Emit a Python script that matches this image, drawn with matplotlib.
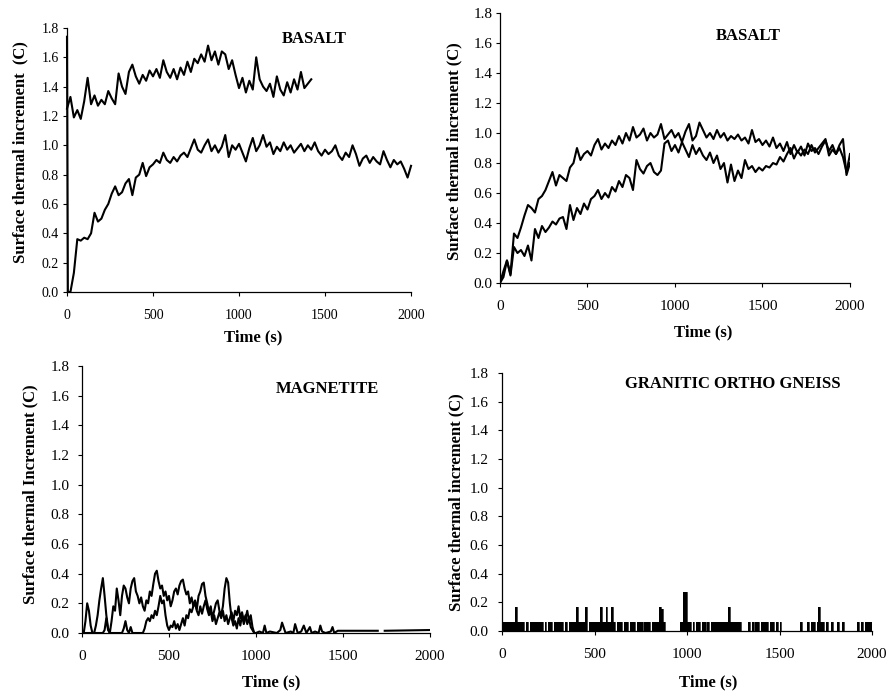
import numpy as np
import matplotlib
matplotlib.use("Agg")
import matplotlib.pyplot as plt

plt.rcParams['font.family'] = ['Liberation Serif', 'DejaVu Serif']

# ---------------- data ----------------
x_ticks = [0, 500, 1000, 1500, 2000]
y_ticks = [0.0, 0.2, 0.4, 0.6, 0.8, 1.0, 1.2, 1.4, 1.6, 1.8]

# Top-left BASALT
tl_upper_t = np.arange(0, 1421, 20)
tl_upper = [1.25, 1.33, 1.19, 1.24, 1.18, 1.30, 1.46, 1.28, 1.34, 1.27,
            1.31, 1.28, 1.37, 1.32, 1.28, 1.49, 1.40, 1.35, 1.50, 1.55,
            1.47, 1.42, 1.48, 1.44, 1.51, 1.47, 1.52, 1.46, 1.58, 1.50,
            1.46, 1.52, 1.45, 1.53, 1.48, 1.57, 1.50, 1.59, 1.56, 1.62,
            1.57, 1.68, 1.58, 1.64, 1.55, 1.64, 1.62, 1.52, 1.58, 1.48,
            1.39, 1.46, 1.36, 1.44, 1.38, 1.60, 1.45, 1.40, 1.37, 1.42,
            1.33, 1.47, 1.38, 1.34, 1.43, 1.36, 1.45, 1.38, 1.50, 1.39,
            1.42, 1.45]

tl_lower_t = np.concatenate([[0, 5], np.arange(20, 2001, 20)])
tl_lower = [1.74, 0.00,
            0.00, 0.13, 0.36, 0.35, 0.37, 0.36, 0.40, 0.54, 0.48, 0.50,
            0.56, 0.60, 0.67, 0.72, 0.66, 0.68, 0.74, 0.77, 0.66, 0.78,
            0.80, 0.88, 0.79, 0.85, 0.87, 0.90, 0.88, 0.95, 0.90, 0.88,
            0.92, 0.89, 0.93, 0.95, 0.92, 0.98, 1.04, 0.97, 0.95, 1.00,
            1.04, 0.96, 1.00, 0.95, 0.99, 1.07, 0.92, 1.00, 0.97, 1.01,
            0.95, 0.89, 0.98, 1.05, 0.96, 1.00, 1.07, 0.99, 1.02, 0.94,
            0.99, 0.96, 1.02, 0.97, 1.00, 0.95, 0.98, 1.01, 0.96, 1.00,
            0.97, 1.02, 0.96, 0.93, 0.97, 0.94, 0.96, 1.00, 0.93, 0.90,
            0.95, 0.92, 1.00, 0.94, 0.86, 0.91, 0.93, 0.88, 0.92, 0.89,
            0.87, 0.96, 0.90, 0.85, 0.90, 0.87, 0.89, 0.84, 0.78, 0.86]

# Top-right BASALT
tr_t = np.arange(0, 2001, 20)
tr_upper = [0.00, 0.08, 0.15, 0.06, 0.33, 0.30, 0.37, 0.45, 0.52, 0.50,
            0.47, 0.56, 0.58, 0.62, 0.68, 0.74, 0.65, 0.72, 0.70, 0.68,
            0.77, 0.80, 0.90, 0.82, 0.86, 0.88, 0.85, 0.92, 0.96, 0.89,
            0.93, 0.90, 0.95, 0.92, 0.98, 0.93, 1.00, 0.95, 1.04, 0.97,
            0.99, 1.03, 0.95, 1.00, 0.97, 0.99, 1.06, 0.96, 0.99, 1.02,
            0.97, 1.00, 0.94, 1.01, 1.06, 0.95, 0.98, 1.07, 1.02, 0.97,
            1.00, 0.96, 1.02, 0.97, 1.00, 0.95, 0.98, 0.96, 0.99, 0.95,
            0.97, 0.93, 1.02, 0.94, 0.96, 0.92, 0.95, 0.91, 0.97, 0.90,
            0.93, 0.88, 0.94, 0.86, 0.92, 0.87, 0.91, 0.85, 0.93, 0.88,
            0.90, 0.86, 0.91, 0.95, 0.88, 0.92, 0.86, 0.90, 0.84, 0.74,
            0.86]
tr_lower = [0.00, 0.04, 0.15, 0.05, 0.24, 0.20, 0.22, 0.18, 0.25, 0.15,
            0.36, 0.30, 0.38, 0.34, 0.37, 0.41, 0.39, 0.43, 0.44, 0.36,
            0.52, 0.42, 0.50, 0.46, 0.53, 0.49, 0.56, 0.58, 0.62, 0.56,
            0.60, 0.57, 0.64, 0.61, 0.68, 0.64, 0.72, 0.70, 0.62, 0.82,
            0.76, 0.73, 0.78, 0.80, 0.74, 0.72, 0.75, 0.93, 0.95, 0.88,
            0.92, 0.87, 0.94, 0.89, 0.84, 0.92, 0.86, 0.90, 0.85, 0.82,
            0.87, 0.80, 0.85, 0.76, 0.80, 0.67, 0.79, 0.68, 0.75, 0.70,
            0.82, 0.76, 0.78, 0.74, 0.77, 0.75, 0.78, 0.77, 0.80, 0.79,
            0.84, 0.81, 0.86, 0.90, 0.83, 0.88, 0.85, 0.89, 0.86, 0.92,
            0.87, 0.90, 0.93, 0.96, 0.85, 0.89, 0.86, 0.92, 0.96, 0.72,
            0.80]

# Bottom-left MAGNETITE
mag_a_t = np.arange(0, 1001, 10)
mag_a = [0.00, 0.00, 0.08, 0.20, 0.15, 0.05, 0.00, 0.00, 0.05, 0.12,
         0.22, 0.30, 0.37, 0.25, 0.12, 0.03, 0.00, 0.08, 0.18, 0.15,
         0.30, 0.22, 0.12, 0.25, 0.32, 0.30, 0.24, 0.20, 0.30, 0.35,
         0.37, 0.28, 0.25, 0.20, 0.24, 0.18, 0.15, 0.22, 0.20, 0.28,
         0.25, 0.33, 0.40, 0.42, 0.35, 0.30, 0.32, 0.25, 0.28, 0.22,
         0.25, 0.18, 0.22, 0.28, 0.30, 0.26, 0.32, 0.35, 0.36, 0.30,
         0.26, 0.28, 0.20, 0.24, 0.18, 0.22, 0.16, 0.25, 0.28, 0.33,
         0.34, 0.25, 0.20, 0.14, 0.18, 0.10, 0.15, 0.20, 0.22, 0.15,
         0.12, 0.18, 0.30, 0.37, 0.34, 0.20, 0.10, 0.05, 0.08, 0.03,
         0.10, 0.05, 0.12, 0.06, 0.10, 0.15, 0.08, 0.12, 0.04, 0.00,
         0.00]
mag_b_t = np.concatenate([np.arange(0, 991, 10),
                          [1000, 1020, 1040, 1050, 1060, 1080, 1120, 1140, 1150, 1170,
                           1200, 1215, 1225, 1240, 1260, 1275, 1290, 1310, 1320, 1340,
                           1360, 1370, 1380, 1400, 1430, 1440, 1450, 1470, 1700, 1710,
                           1740, 2000]])
mag_b = [0, 0, 0, 0, 0, 0, 0, 0, 0, 0,
         0, 0, 0, 0.02, 0.10, 0.02, 0, 0, 0, 0,
         0, 0, 0, 0, 0.03, 0.08, 0.02, 0, 0.04, 0,
         0, 0, 0, 0, 0, 0, 0.03, 0.08, 0.10, 0.08,
         0.12, 0.10, 0.15, 0.12, 0.18, 0.25, 0.20, 0.22, 0.12, 0.05,
         0.02, 0.05, 0.04, 0.08, 0.03, 0.06, 0.02, 0.06, 0.10, 0.05,
         0.12, 0.10, 0.16, 0.14, 0.18, 0.20, 0.15, 0.12, 0.18, 0.13,
         0.18, 0.22, 0.16, 0.12, 0.15, 0.08, 0.12, 0.06, 0.10, 0.14,
         0.10, 0.15, 0.08, 0.12, 0.06, 0.10, 0.14, 0.08, 0.15, 0.12,
         0.18, 0.10, 0.14, 0.08, 0.12, 0.06, 0.10, 0.04, 0.02, 0.00,
         0.00, 0.01, 0.00, 0.05, 0.00, 0.01, 0.00, 0.02, 0.07, 0.00,
         0.01, 0.00, 0.06, 0.00, 0.01, 0.05, 0.00, 0.04, 0.00, 0.01,
         0.00, 0.05, 0.01, 0.00, 0.01, 0.04, 0.00, 0.015, 0.015, np.nan,
         0.015, 0.02]

# Bottom-right GRANITIC ORTHO GNEISS (10 s bins)
gn_t = np.arange(0, 2001, 10)
gn = [0.06, 0.06, 0.06, 0.06, 0.06, 0.06, 0.06, 0.17, 0.06, 0.06,
      0.06, 0.06, 0, 0.06, 0, 0.06, 0.06, 0.06, 0.06, 0.06,
      0.06, 0.06, 0, 0.06, 0, 0.06, 0.06, 0, 0.06, 0.06,
      0.06, 0.06, 0.06, 0, 0.06, 0, 0.06, 0.06, 0.06, 0.06,
      0.17, 0.06, 0.06, 0.06, 0.06, 0.17, 0, 0.06, 0.06, 0.06,
      0.06, 0.06, 0.06, 0.17, 0.06, 0.06, 0.17, 0.06, 0.06, 0.17,
      0.06, 0, 0.06, 0.06, 0.06, 0, 0.06, 0.06, 0, 0.06,
      0.06, 0.06, 0, 0.06, 0.06, 0.06, 0, 0.06, 0.06, 0.06,
      0, 0.06, 0.06, 0.06, 0.06, 0.17, 0.15, 0.06, 0, 0,
      0, 0, 0, 0, 0, 0, 0.06, 0.06, 0.27, 0.27,
      0.06, 0.06, 0, 0.06, 0, 0.06, 0.06, 0, 0.06, 0.06,
      0, 0.06, 0, 0.06, 0.06, 0.06, 0.06, 0.06, 0.06, 0.06,
      0.06, 0.06, 0.17, 0.06, 0.06, 0.06, 0.06, 0.06, 0.06, 0,
      0, 0, 0, 0.06, 0, 0.06, 0, 0.06, 0.06, 0,
      0.06, 0.06, 0.06, 0.06, 0, 0.06, 0.06, 0, 0.06, 0,
      0.06, 0, 0, 0, 0, 0, 0, 0, 0, 0,
      0, 0.06, 0, 0, 0, 0.06, 0, 0.06, 0.06, 0,
      0.06, 0.17, 0.06, 0.06, 0, 0.06, 0, 0, 0.06, 0,
      0, 0.06, 0, 0, 0.06, 0, 0, 0, 0, 0,
      0, 0, 0.06, 0, 0.06, 0, 0.06, 0.06, 0.06, 0.06,
      0.06]

# ---------------- figure ----------------
fig = plt.figure(figsize=(8.92, 6.94), dpi=100)

panels = [
    dict(rect=[0.0751, 0.5793, 0.3857, 0.3804], title="BASALT", tpos=(0.718, 0.958),
         ylabel="Surface thermal increment  (C)", ylc=(-0.113, 0.53), xlc=(0.54, -0.14),
         ts=10, ypad=3),
    dict(rect=[0.5605, 0.5922, 0.3924, 0.3890], title="BASALT", tpos=(0.709, 0.915),
         ylabel="Surface thermal increment (C)", ylc=(-0.106, 0.49), xlc=(0.58, -0.155),
         ts=11, ypad=2.5),
    dict(rect=[0.0919, 0.0879, 0.3901, 0.3847], title="MAGNETITE", tpos=(0.704, 0.914),
         ylabel="Surface thermal Increment (C)", ylc=(-0.126, 0.52), xlc=(0.543, -0.154),
         ts=11, ypad=6),
    dict(rect=[0.5628, 0.0908, 0.4148, 0.3718], title="GRANITIC ORTHO GNEISS", tpos=(0.624, 0.957),
         ylabel="Surface thermal increment (C)", ylc=(-0.103, 0.50), xlc=(0.557, -0.167),
         ts=11, ypad=6.5),
]

axes = []
for p in panels:
    ax = fig.add_axes(p['rect'])
    ax.set_xlim(0, 2000)
    ax.set_ylim(0, 1.8)
    ax.set_xticks(x_ticks)
    ax.set_yticks(y_ticks)
    ax.set_yticklabels([f"{v:.1f}" for v in y_ticks])
    for s in ['top', 'right']:
        ax.spines[s].set_visible(False)
    for s in ['left', 'bottom']:
        ax.spines[s].set_linewidth(0.9)
    ax.tick_params(axis='both', direction='out', length=3, width=0.8, labelsize=p['ts'])
    ax.tick_params(axis='x', pad=9)
    ax.tick_params(axis='y', pad=p['ypad'])
    ax.set_ylabel(p['ylabel'], fontsize=12, fontweight='bold')
    ax.yaxis.set_label_coords(*p['ylc'])
    ax.set_xlabel("Time (s)", fontsize=12, fontweight='bold')
    ax.xaxis.set_label_coords(*p['xlc'])
    ax.text(p['tpos'][0], p['tpos'][1], p['title'], transform=ax.transAxes,
            ha='center', va='center', fontsize=12, fontweight='bold')
    axes.append(ax)

lw = 1.5
axes[0].plot(tl_upper_t, tl_upper, color='black', lw=lw, clip_on=False)
axes[0].plot(tl_lower_t, tl_lower, color='black', lw=lw, clip_on=False)
axes[1].plot(tr_t, tr_upper, color='black', lw=lw)
axes[1].plot(tr_t, tr_lower, color='black', lw=lw)
axes[2].plot(mag_a_t, mag_a, color='black', lw=lw)
axes[2].plot(mag_b_t, mag_b, color='black', lw=lw)
axes[3].fill_between(gn_t, gn, 0, step='post', color='black', lw=0)
axes[3].step(gn_t, gn, where='post', color='black', lw=0.5)

fig.savefig("out.png", dpi=100)
